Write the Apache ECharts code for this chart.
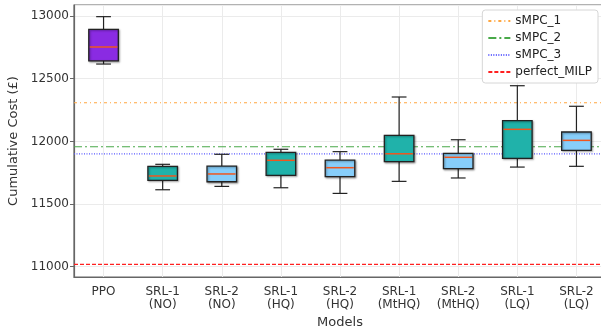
<!DOCTYPE html>
<html>
<head>
  <meta charset="UTF-8">
  <title>cumulative cost</title>
  <script src="https://cdn.jsdelivr.net/npm/echarts@6/dist/echarts.min.js"></script>
</head>
<body style="margin: 0">
<div id="container" style="width: 601px; height: 329px; background: #fff"></div>
<script type="text/javascript">
  var models = ['PPO', 'SRL-1\n(NO)', 'SRL-2\n(NO)', 'SRL-1\n(HQ)', 'SRL-2\n(HQ)',
    'SRL-1\n(MtHQ)', 'SRL-2\n(MtHQ)', 'SRL-1\n(LQ)', 'SRL-2\n(LQ)'];
  var whiskerLow  = [12617, 11614, 11641, 11630, 11585, 11681, 11708, 11795, 11801];
  var q1          = [12643, 11689, 11678, 11729, 11718, 11838, 11782, 11865, 11929];
  var median      = [12753, 11724, 11740, 11849, 11790, 11901, 11873, 12096, 12008];
  var q3          = [12894, 11801, 11803, 11913, 11851, 12048, 11905, 12165, 12075];
  var whiskerHigh = [12995, 11817, 11897, 11937, 11918, 12354, 12013, 12444, 12280];
  var boxColors = ['#8a2be2', '#20b2aa', '#87cefa', '#20b2aa', '#87cefa',
    '#20b2aa', '#87cefa', '#20b2aa', '#87cefa'];

  var refNames  = ['sMPC_1', 'sMPC_2', 'sMPC_3', 'perfect_MILP'];
  var refValues = [12308, 11957, 11901, 11019];
  var refColors = ['#ffa640', '#49a949', '#5a5aff', '#ff2020'];
  var refDash   = [[3, 3, 1, 3], [8, 3, 2, 3], [1, 1.5], [4, 2]];

  var font = 'DejaVu Sans';
  var dom = document.getElementById('container');
  var myChart = echarts.init(dom, null, { renderer: 'canvas' });

  var boxData = models.map(function (m, i) {
    return [i, whiskerLow[i], q1[i], median[i], q3[i], whiskerHigh[i]];
  });

  function renderBox(params, api) {
    var i = api.value(0);
    var bw = api.size([1, 0])[0] * 0.5;
    var cw = bw * 0.5;
    var lo = api.coord([i, api.value(1)]);
    var b1 = api.coord([i, api.value(2)]);
    var md = api.coord([i, api.value(3)]);
    var b3 = api.coord([i, api.value(4)]);
    var hi = api.coord([i, api.value(5)]);
    var x = lo[0];
    var line = { stroke: '#222', lineWidth: 1.2 };
    return {
      type: 'group',
      children: [
        { type: 'line', shape: { x1: x, y1: lo[1], x2: x, y2: b1[1] }, style: line },
        { type: 'line', shape: { x1: x, y1: b3[1], x2: x, y2: hi[1] }, style: line },
        { type: 'line', shape: { x1: x - cw / 2, y1: lo[1], x2: x + cw / 2, y2: lo[1] }, style: line },
        { type: 'line', shape: { x1: x - cw / 2, y1: hi[1], x2: x + cw / 2, y2: hi[1] }, style: line },
        {
          type: 'rect',
          shape: { x: x - bw / 2, y: b3[1], width: bw, height: b1[1] - b3[1] },
          style: { fill: boxColors[i], stroke: '#222', lineWidth: 1.3,
            shadowBlur: 2, shadowColor: 'rgba(0,0,0,0.35)', shadowOffsetX: 1, shadowOffsetY: 1 }
        },
        { type: 'line', shape: { x1: x - bw / 2 + 1, y1: md[1], x2: x + bw / 2 - 1, y2: md[1] },
          style: { stroke: '#f0561e', lineWidth: 1.5 } }
      ]
    };
  }

  var series = [{
    type: 'custom',
    name: 'boxes',
    data: boxData,
    encode: { x: 0, y: [1, 2, 3, 4, 5] },
    renderItem: renderBox,
    z: 3
  }];
  // reference levels drawn across a hidden 0..1 x axis
  refNames.forEach(function (n, k) {
    series.push({
      type: 'line',
      name: n,
      xAxisIndex: 1,
      data: [[0, refValues[k]], [1, refValues[k]]],
      color: refColors[k],
      symbol: 'none',
      silent: true,
      z: 2,
      lineStyle: { color: refColors[k], type: refDash[k], width: 1.2 }
    });
  });

  var option = {
    animation: false,
    textStyle: { fontFamily: font },
    grid: {
      left: 74, right: -5, top: 5, bottom: 52,
      outerBoundsMode: 'none',
      containLabel: false,
      show: true, borderColor: '#666', borderWidth: 1.2
    },
    legend: {
      data: refNames,
      orient: 'vertical',
      right: 3,
      top: 10,
      itemWidth: 22,
      itemHeight: 10,
      itemGap: 5,
      padding: [5, 6, 5, 5],
      backgroundColor: '#fff',
      borderColor: '#d6d6d6',
      borderWidth: 1,
      borderRadius: 3,
      itemStyle: { color: 'rgba(0,0,0,0)', borderWidth: 0, opacity: 0 },
      textStyle: { fontFamily: font, fontSize: 12, color: '#222' }
    },
    xAxis: [{
      type: 'category',
      data: models,
      name: 'Models',
      nameLocation: 'middle',
      nameGap: 33,
      nameTextStyle: { fontFamily: font, fontSize: 13, color: '#333' },
      axisLine: { lineStyle: { color: '#666', width: 1.2 } },
      axisTick: { alignWithLabel: true, length: 4, lineStyle: { color: '#666' } },
      axisLabel: { fontFamily: font, fontSize: 12, color: '#333', lineHeight: 13, margin: 8 },
      splitLine: { show: true, alignWithLabel: true, lineStyle: { color: '#ebebeb' } }
    }, {
      type: 'value',
      min: 0,
      max: 1,
      show: false
    }],
    yAxis: {
      type: 'value',
      min: 10918,
      max: 13088,
      splitNumber: 4,
      name: 'Cumulative Cost (£)',
      nameLocation: 'middle',
      nameGap: 52,
      nameTextStyle: { fontFamily: font, fontSize: 13, color: '#333' },
      axisLine: { show: true, lineStyle: { color: '#666', width: 1.2 } },
      axisTick: { show: true, length: 4, lineStyle: { color: '#666' } },
      axisLabel: { fontFamily: font, fontSize: 12, color: '#333', margin: 5,
        showMinLabel: false, showMaxLabel: false,
        formatter: function (v) { return String(v); } },
      splitLine: { show: true, lineStyle: { color: '#ebebeb' } }
    },
    series: series
  };
  myChart.setOption(option);
</script>
</body>
</html>
